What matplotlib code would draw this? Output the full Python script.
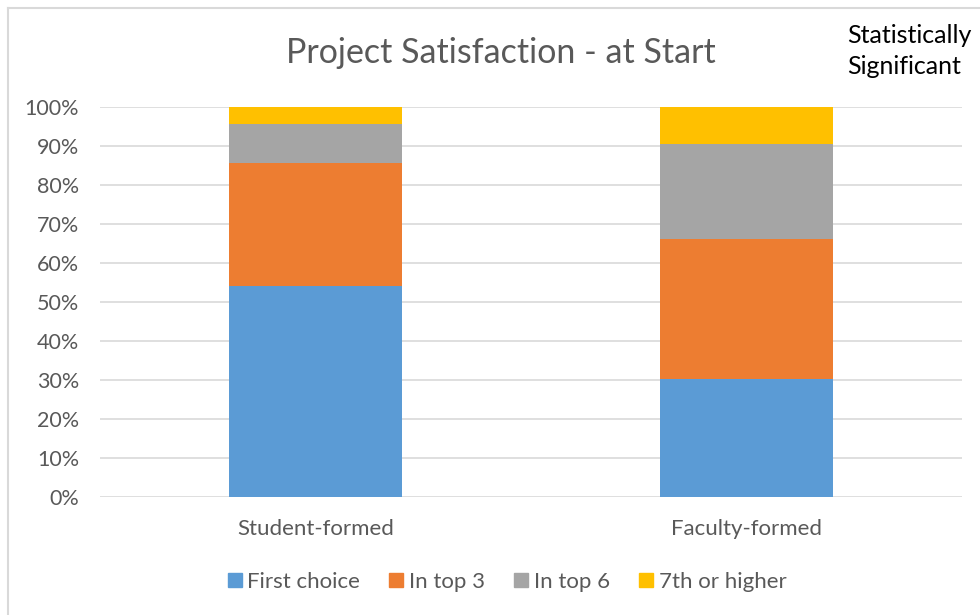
import numpy as np
import matplotlib.pyplot as plt
from matplotlib.lines import Line2D

groups = ['Student-formed', 'Faculty-formed']
series = ['First choice', 'In top 3', 'In top 6', '7th or higher']
first_choice = [53.9, 30.1]
in_top3 = [31.6, 35.9]
in_top6 = [10.1, 24.4]
seventh_plus = [4.4, 9.6]
colors = ['#5B9BD5', '#ED7D31', '#A5A5A5', '#FFC000']

plt.rcParams['font.family'] = ['Lato', 'DejaVu Sans']
txt = '#595959'

fig = plt.figure(figsize=(9.8, 6.15), dpi=100)
ax = fig.add_axes([100 / 980, 1 - 496.7 / 615, 862 / 980, 390 / 615])

x = np.arange(len(groups))
bottom = np.zeros(len(groups))
for name, vals, c in zip(series, [first_choice, in_top3, in_top6, seventh_plus], colors):
    ax.bar(x, vals, 0.40, bottom=bottom, color=c, label=name, zorder=3)
    bottom += np.array(vals)

ax.set_xlim(-0.5, 1.5)
ax.set_ylim(0, 100)
ax.set_yticks(np.arange(0, 101, 10))
ax.set_yticklabels([f'{v}%' for v in range(0, 101, 10)], color=txt, fontsize=15.5)
ax.set_xticks(x)
ax.set_xticklabels(groups, color=txt, fontsize=16)
ax.tick_params(length=0)
ax.tick_params(axis='y', pad=15)
ax.tick_params(axis='x', pad=16)
ax.yaxis.grid(True, color='#D9D9D9', linewidth=1.2, zorder=0)
for s in ax.spines.values():
    s.set_visible(False)

fig.text(0.511, 1 - 53 / 615, 'Project Satisfaction - at Start', ha='center', va='center',
         fontsize=24.5, color=txt)
fig.text(847 / 980, 1 - 51 / 615, 'Statistically\nSignificant', ha='left', va='center',
         fontsize=18, color='black', linespacing=1.45)

handles = [Line2D([], [], marker='s', linestyle='', markersize=10, color=c) for c in colors]
fig.legend(handles, series, loc='center', bbox_to_anchor=(505 / 980, 1 - 582 / 615), ncol=4,
           frameon=False, fontsize=16, labelcolor=txt, handletextpad=0.05, columnspacing=1.15,
           handlelength=1.0)

# chart frame (left and top edges visible)
fig.add_artist(Line2D([8 / 980, 8 / 980], [0, 1 - 8 / 615], color='#D9D9D9', lw=1.5))
fig.add_artist(Line2D([8 / 980, 1], [1 - 8 / 615, 1 - 8 / 615], color='#D9D9D9', lw=1.5))

fig.savefig('out.png', dpi=100)
